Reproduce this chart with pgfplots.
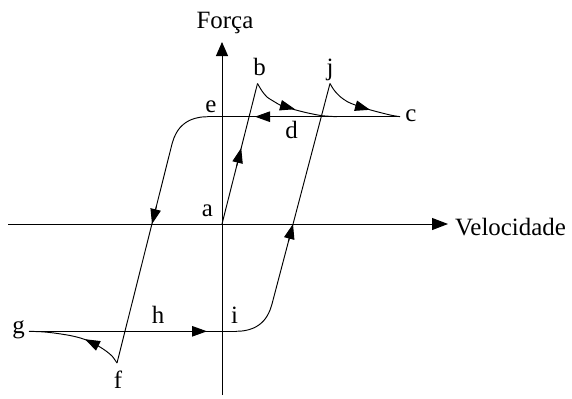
\documentclass[border=0pt]{standalone}
\usepackage{fontspec}
\setmainfont{Liberation Serif}
\usepackage{pgfplots}
\pgfplotsset{compat=1.18}
\usetikzlibrary{arrows.meta}
\tikzset{ln/.style={black,line width=0.95bp},
  arr/.style={black,line width=0.95bp,-{Triangle[length=15bp,width=10.5bp]}},
  lab/.style={anchor=base,inner sep=0pt,font=\fontsize{25}{29}\selectfont}}
\begin{document}
\begin{tikzpicture}
\begin{axis}[x=1bp,y=1bp,xmin=-222,xmax=350,ymin=-174,ymax=224,
  hide axis,clip=false,enlargelimits=false,
  every axis plot/.append style={no marks}]
% axes
\addplot[ln,-{Triangle[length=16bp,width=12bp]}] coordinates {(-214,0) (226,0)};
\addplot[ln,-{Triangle[length=14bp,width=12bp]}] coordinates {(0,-171) (0,182)};
% a -> b
\addplot[ln] coordinates {(0,0) (35.5,140.5)};
\addplot[arr] coordinates {(14.7,58) (19.2,76)};
% b curve
\addplot[ln,smooth] coordinates {(35.5,140.5) (40,133) (45,127) (52,122.5) (58,119) (66,116.2) (75,113.7) (85,111.2) (100,108.3) (115,107.3)};
\addplot[arr] coordinates {(62,117.8) (73,114.8)};
% j curve
\addplot[ln,smooth] coordinates {(108,140.5) (112,134) (118,127.5) (126,122) (136,118) (148,114.2) (160,111) (170,108.6) (178,107.3)};
\addplot[arr] coordinates {(136,117.6) (148,114.2)};
% upper horizontal
\addplot[ln] coordinates {(178,107.3) (-14,107.3)};
\addplot[arr] coordinates {(50,107.3) (33,107.3)};
% upper-left corner
\addplot[ln,smooth] coordinates {(-14,107.3) (-20.9,106.9) (-27.1,105.6) (-32.7,103.5) (-37.5,100.5) (-41.7,96.7) (-45.1,92) (-47.9,86.4) (-50,80)};
% left line
\addplot[ln] coordinates {(-50,80) (-105,-139)};
\addplot[arr] coordinates {(-65.5,18) (-70,0)};
% f curve
\addplot[ln,smooth] coordinates {(-105,-139) (-110,-132) (-116,-127) (-122,-123) (-130,-118.5) (-140,-114.5) (-152,-111.5) (-168,-109) (-180,-107.8) (-193,-107.3)};
\addplot[arr] coordinates {(-125,-121.2) (-137,-115.2)};
% lower horizontal
\addplot[ln] coordinates {(-193,-107.3) (14,-107.3)};
\addplot[arr] coordinates {(-32,-107.3) (-15,-107.3)};
% lower-right corner
\addplot[ln,smooth] coordinates {(14,-107.3) (20.9,-106.9) (27.1,-105.6) (32.7,-103.5) (37.5,-100.5) (41.7,-96.7) (45.1,-92) (47.9,-86.4) (50,-80)};
% right line
\addplot[ln] coordinates {(50,-80) (108,140.5)};
\addplot[arr] coordinates {(66.3,-18) (71,0)};
% labels
\node[lab] at (axis cs:3,196) {Força};
\node[lab] at (axis cs:37.5,149) {b};
\node[lab] at (axis cs:108,149) {j};
\node[lab] at (axis cs:-11,112) {e};
\node[lab] at (axis cs:189,102.3) {c};
\node[lab] at (axis cs:69.5,86) {d};
\node[lab] at (axis cs:-14.5,7.3) {a};
\node[lab,anchor=base west] at (axis cs:233,-11) {Velocidade};
\node[lab] at (axis cs:-203.5,-109) {g};
\node[lab] at (axis cs:-64,-99) {h};
\node[lab] at (axis cs:12.5,-99) {i};
\node[lab] at (axis cs:-104,-164) {f};
\end{axis}
\pgfresetboundingbox
\path (current axis.south west) rectangle (current axis.north east);
\end{tikzpicture}
\end{document}
